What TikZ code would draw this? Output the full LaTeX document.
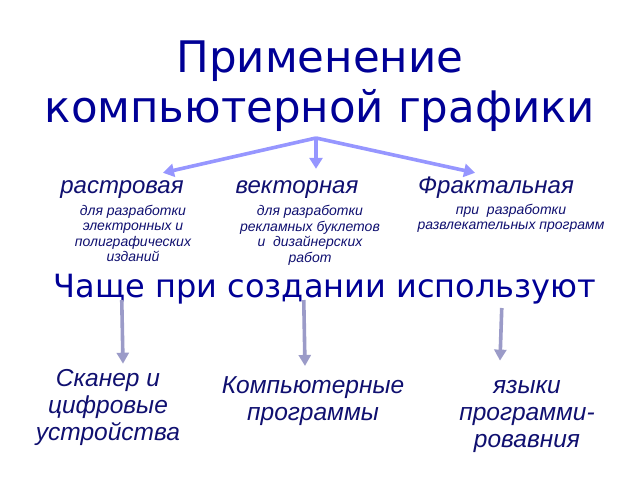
\documentclass[tikz,border=0pt]{standalone}
\usepackage{fontspec}
\setmainfont{Liberation Sans}
\newfontfamily\dejavu{DejaVu Sans}
\usetikzlibrary{arrows.meta,calc}
\definecolor{titleblue}{RGB}{0,0,150}
\definecolor{labelblue}{RGB}{16,16,112}
\definecolor{toparrow}{RGB}{150,150,255}
\definecolor{botarrow}{RGB}{155,155,200}
\tikzset{
  titletext/.style={font=\dejavu\fontsize{43.5}{50}\selectfont, text=titleblue, align=center, anchor=base, inner sep=0pt},
  headtext/.style={font=\dejavu\fontsize{32}{36}\selectfont, text=titleblue, anchor=base, inner sep=0pt},
  cattext/.style={font=\itshape\fontsize{24}{28}\selectfont, text=labelblue, anchor=base, inner sep=0pt, text height=20pt},
  desctext/.style={font=\itshape\fontsize{14}{15.5}\selectfont, text=labelblue, align=center, anchor=base, inner sep=0pt},
  bottext/.style={font=\itshape\fontsize{24.5}{27}\selectfont, text=labelblue, align=center, anchor=base, inner sep=0pt},
  toparr/.style={draw=toparrow, line width=3.6pt, -{Triangle[length=11pt,width=13pt]}},
  botarr/.style={draw=botarrow, line width=3.6pt, -{Triangle[length=11pt,width=12pt]}}
}
\begin{document}
\begin{tikzpicture}[x=1pt,y=-1pt]
\useasboundingbox (0,0) rectangle (640,480);
\fill[white] (0,0) rectangle (640,480);

\node[titletext] (title) at (320,122) {Применение\\компьютерной графики};
\coordinate (j) at (316,138);

\node[cattext] (rast) at (122,193) {растровая};
\node[cattext] (vect) at (297,193) {векторная};
\node[cattext] (frac) at (496,193) {Фрактальная};

\node[desctext] (d1) at (133,261.5) {для разработки\\электронных и\\полиграфических\\изданий};
\node[desctext] (d2) at (310,262) {для разработки\\рекламных буклетов\\и\ \ дизайнерских\\работ};
\node[desctext] (d3) at (511,229.5) {при\ \ разработки\\развлекательных программ};

\draw[toparr] (j) -- ($(rast.north)+(41,0)$);
\draw[toparr] (j) -- ($(vect.north)+(19,-4)$);
\draw[toparr] (j) -- ($(frac.north)+(-21,0)$);

\node[headtext] (head) at (325,297) {Чаще при создании используют};

\node[bottext] (b1) at (108,440) {Сканер и\\цифровые\\устройства};
\node[bottext] (b2) at (313,420) {Компьютерные\\программы};
\node[bottext] (b3) at (527,447) {языки\\программи-\\ровавния};

\draw[botarr] ($(head.base west)+(68,3)$) -- ($(b1.north)+(15,-5)$);
\draw[botarr] ($(head.base west)+(250,3)$) -- ($(b2.north)+(-8,-10)$);
\draw[botarr] ($(head.base west)+(448,11)$) -- ($(b3.north)+(-27,-19)$);
\end{tikzpicture}
\end{document}
